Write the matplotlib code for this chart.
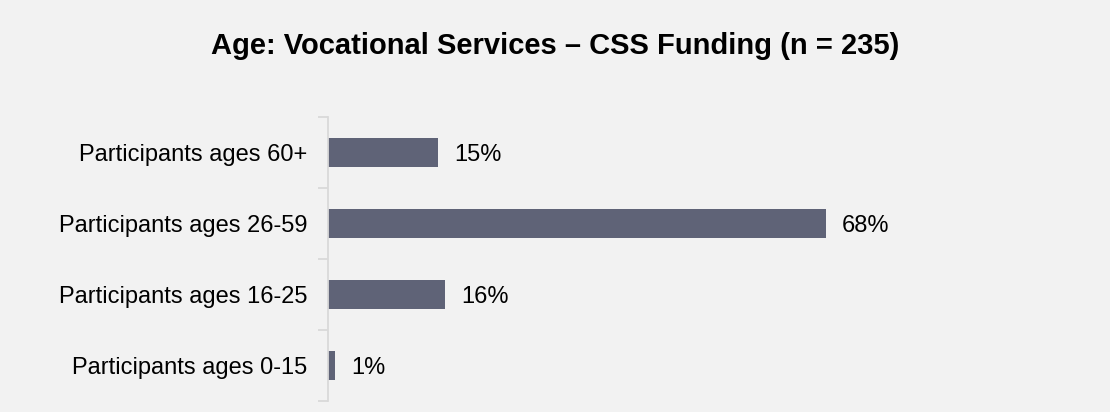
import matplotlib
matplotlib.use("Agg")
import matplotlib.pyplot as plt
from matplotlib.ticker import FixedLocator

plt.rcParams['font.family'] = ['Liberation Sans', 'DejaVu Sans']

categories = ["Participants ages 0-15", "Participants ages 16-25",
              "Participants ages 26-59", "Participants ages 60+"]
values = [1, 16, 68, 15]
title = "Age: Vocational Services \u2013 CSS Funding (n = 235)"

bg = "#f2f2f2"
bar_color = "#5f6377"
axis_color = "#d9d9d9"

fig = plt.figure(figsize=(11.1, 4.12), dpi=100, facecolor=bg)
ax = fig.add_axes([328 / 1110, 1 - 401 / 412, 732 / 1110, (401 - 117) / 412])
ax.set_facecolor(bg)

y = list(range(len(categories)))
ax.barh(y, values, height=0.4, color=bar_color)
for yi, v in zip(y, values):
    ax.text(v + 2.2, yi - 0.12, f"{v}%", va="baseline", ha="left",
            fontsize=17, color="#000000")

ax.set_xlim(0, 100)
ax.set_ylim(-0.5, len(categories) - 0.5)
ax.set_yticks(y)
ax.set_yticklabels(categories, fontsize=17)
ax.yaxis.set_minor_locator(FixedLocator([i - 0.5 for i in range(len(categories) + 1)]))
ax.tick_params(axis="y", which="major", length=0, pad=15)
ax.tick_params(axis="y", which="minor", length=7, color=axis_color, width=1.3)
ax.set_xticks([])
for s in ["top", "right", "bottom"]:
    ax.spines[s].set_visible(False)
ax.spines["left"].set_color(axis_color)
ax.spines["left"].set_linewidth(1.3)

fig.text(0.5, 1 - 46 / 412, title, ha="center", va="center",
         fontsize=21, fontweight="bold")

fig.savefig("out.png", dpi=100, facecolor=bg)
